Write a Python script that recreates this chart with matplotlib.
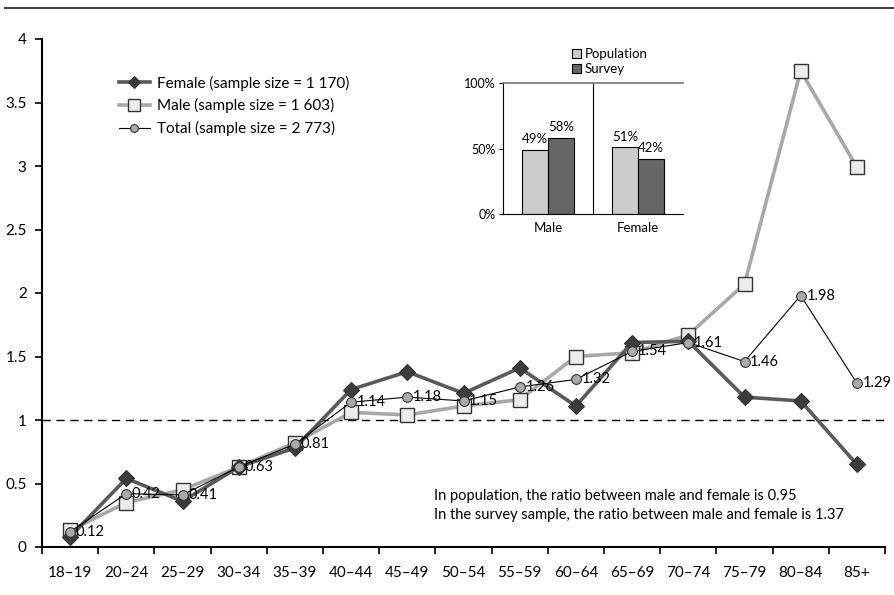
import matplotlib
matplotlib.use("Agg")
import matplotlib.pyplot as plt
from matplotlib.lines import Line2D
import numpy as np

plt.rcParams['font.family'] = ['Lato', 'DejaVu Sans']

age_groups = ["18–19", "20–24", "25–29", "30–34", "35–39", "40–44", "45–49", "50–54",
              "55–59", "60–64", "65–69", "70–74", "75–79", "80–84", "85+"]
female = [0.08, 0.54, 0.36, 0.63, 0.78, 1.24, 1.38, 1.21, 1.41, 1.11, 1.61, 1.62, 1.18, 1.15, 0.65]
male = [0.13, 0.35, 0.45, 0.63, 0.82, 1.06, 1.04, 1.11, 1.16, 1.50, 1.53, 1.67, 2.07, 3.75, 2.99]
total = [0.12, 0.42, 0.41, 0.63, 0.81, 1.14, 1.18, 1.15, 1.26, 1.32, 1.54, 1.61, 1.46, 1.98, 1.29]
total_labels = ["0.12", "0.42", "0.41", "0.63", "0.81", "1.14", "1.18", "1.15", "1.26", "1.32",
                "1.54", "1.61", "1.46", "1.98", "1.29"]
legend_labels = ["Female (sample size = 1 170)", "Male (sample size = 1 603)", "Total (sample size = 2 773)"]

inset_groups = ["Male", "Female"]
population_share = [49, 51]
survey_share = [58, 42]
notes = ["In population, the ratio between male and female is 0.95",
         "In the survey sample, the ratio between male and female is 1.37"]

fig = plt.figure(figsize=(8.94, 5.95), dpi=100)
ax = fig.add_axes([42/894, 48/595, 843/894, 508/595])

x = np.arange(len(age_groups))
ax.axhline(1, color="black", lw=1.0, ls=(0, (6, 4)), zorder=1)
ax.plot(x, male, color="#a8a8a8", lw=2.6, marker="s", markersize=10,
        markerfacecolor="#ececec", markeredgecolor="#333333", markeredgewidth=1.0,
        label=legend_labels[1], zorder=2)
ax.plot(x, female, color="#5a5a5a", lw=2.6, marker="D", markersize=8,
        markerfacecolor="#3c3c3c", markeredgecolor="#333333", markeredgewidth=0.8,
        label=legend_labels[0], zorder=3)
ax.plot(x, total, color="black", lw=0.8, marker="o", markersize=7,
        markerfacecolor="#aaaaaa", markeredgecolor="#333333", markeredgewidth=0.8,
        label=legend_labels[2], zorder=4)
for xi, yi, lab in zip(x, total, total_labels):
    ax.annotate(lab, (xi, yi), xytext=(4, 0), textcoords="offset points",
                ha="left", va="center", fontsize=10.5, zorder=5)

ax.set_xlim(-0.5, len(age_groups) - 0.5)
ax.set_ylim(0, 4)
ax.set_yticks([0, 0.5, 1, 1.5, 2, 2.5, 3, 3.5, 4])
ax.set_yticklabels(["0", "0.5", "1", "1.5", "2", "2.5", "3", "3.5", "4"], fontsize=11)
ax.set_xticks(np.arange(-0.5, len(age_groups), 1.0))
ax.set_xticklabels([])
ax.set_xticks(x, minor=True)
ax.set_xticklabels(age_groups, minor=True, fontsize=11)
ax.tick_params(axis="x", which="minor", length=0, pad=14)
ax.tick_params(axis="x", which="major", length=5, width=1.2, direction="out")
ax.tick_params(axis="y", length=5, width=1.2, direction="out", pad=6)
for s in ["top", "right"]:
    ax.spines[s].set_visible(False)
for s in ["left", "bottom"]:
    ax.spines[s].set_linewidth(1.5)

handles, labels = ax.get_legend_handles_labels()
order = [1, 0, 2]
ax.legend([handles[i] for i in order], [labels[i] for i in order], loc="upper left",
          bbox_to_anchor=(0.075, 0.955), frameon=False, fontsize=11, handlelength=2.0,
          handletextpad=0.5, labelspacing=0.5, markerscale=0.8)

ax.text(0.465, 0.100, notes[0], transform=ax.transAxes, fontsize=10.5, va="center")
ax.text(0.465, 0.063, notes[1], transform=ax.transAxes, fontsize=10.5, va="center")

# top rule
fig.add_artist(Line2D([5/894, 1.0], [1 - 8/595, 1 - 8/595], color="#444444", lw=1.5,
                      transform=fig.transFigure))

# inset
iax = fig.add_axes([503/894, (595-214)/595, 180/894, 131/595])
ix = np.arange(len(inset_groups))
bw = 0.29
pop_bars = iax.bar(ix + 0.5 - bw/2, [v/100 for v in population_share], bw, color="#cccccc",
                   edgecolor="black", linewidth=0.8, label="Population")
sur_bars = iax.bar(ix + 0.5 + bw/2, [v/100 for v in survey_share], bw, color="#666666",
                   edgecolor="black", linewidth=0.8, label="Survey")
for b, v in zip(pop_bars, population_share):
    iax.text(b.get_x() + b.get_width()/2, b.get_height() + 0.035, f"{v}%", ha="center",
             va="bottom", fontsize=9.5)
for b, v in zip(sur_bars, survey_share):
    iax.text(b.get_x() + b.get_width()/2, b.get_height() + 0.035, f"{v}%", ha="center",
             va="bottom", fontsize=9.5)
iax.axvline(1, color="black", lw=0.8)
iax.set_xlim(0, 2)
iax.set_ylim(0, 1)
iax.set_yticks([0, 0.5, 1])
iax.set_yticklabels(["0%", "50%", "100%"], fontsize=9)
iax.set_xticks(ix + 0.5)
iax.set_xticklabels(inset_groups, fontsize=9.5)
iax.tick_params(axis="x", length=0, pad=6)
iax.tick_params(axis="y", length=3, width=0.8, pad=2)
iax.spines["right"].set_visible(False)
iax.spines["top"].set_color("#777777")
iax.spines["top"].set_linewidth(1.2)
iax.spines["left"].set_linewidth(0.8)
iax.spines["bottom"].set_linewidth(0.8)
iax.legend(loc="lower left", bbox_to_anchor=(0.34, 1.0), frameon=False, fontsize=9.5,
           handlelength=0.7, handleheight=0.7, handletextpad=0.25, labelspacing=0.2,
           borderpad=0.1)

fig.savefig("out.png", dpi=100)
